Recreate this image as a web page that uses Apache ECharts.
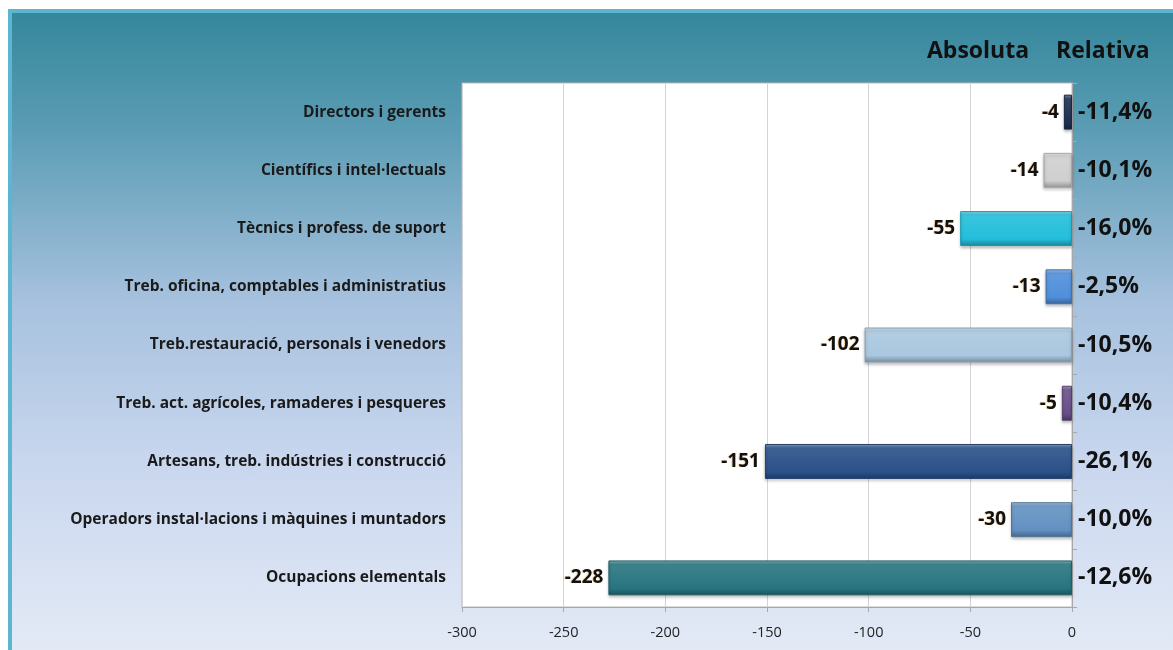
<!DOCTYPE html>
<html>
<head>
<meta charset="utf-8">
<script src="https://cdn.jsdelivr.net/npm/echarts@6/dist/echarts.min.js"></script>
<style>
  html, body { margin: 0; padding: 0; background: #fff; }
  #frame {
    position: absolute; left: 8px; top: 9px; width: 1161px; height: 637px;
    border-left: 4px solid #5db6d1; border-top: 4px solid #5db6d1;
    background: linear-gradient(to bottom, #35879b 0%, #5a9cb4 18%, #a6c1de 45%, #c8d6ee 70%, #e3eaf6 100%);
  }
  #chart { position: absolute; left: 0; top: 0; width: 1173px; height: 650px; }
</style>
</head>
<body>
<div id="frame"></div>
<div id="chart"></div>
<script>
// ocupacions (de dalt a baix)
const categories = [
  'Directors i gerents',
  'Científics i intel·lectuals',
  'Tècnics i profess. de suport',
  'Treb. oficina, comptables i administratius',
  'Treb.restauració, personals i venedors',
  'Treb. act. agrícoles, ramaderes i pesqueres',
  'Artesans, treb. indústries i construcció',
  'Operadors instal·lacions i màquines i muntadors',
  'Ocupacions elementals'
]
// variació absoluta (milers)
const absoluta = [-4, -14, -55, -13, -102, -5, -151, -30, -228]
// variació relativa
const relativa = ['-11,4%', '-10,1%', '-16,0%', '-2,5%', '-10,5%', '-10,4%', '-26,1%', '-10,0%', '-12,6%']
const barColors = ['#1f3152', '#cfcfcf', '#23bedb', '#4f8fda', '#a9c7df', '#684f88', '#2a5189', '#6291c1', '#277580']
const xTicks = [-300, -250, -200, -150, -100, -50, 0]

const shade = (hex, f) => {
  const n = parseInt(hex.slice(1), 16)
  let r = n >> 16, g = (n >> 8) & 255, b = n & 255
  const m = (c) => Math.max(0, Math.min(255, Math.round(f > 0 ? c + (255 - c) * f : c * (1 + f))))
  return 'rgb(' + m(r) + ',' + m(g) + ',' + m(b) + ')'
}

const chart = echarts.init(document.getElementById('chart'))
const font = '"Open Sans", "Noto Sans", sans-serif'

chart.setOption({
  backgroundColor: 'transparent',
  animation: false,
  grid: {
    left: 462, right: 101, top: 83, bottom: 43,
    show: true, backgroundColor: '#ffffff', borderColor: '#b9b9b9', borderWidth: 1
  },
  graphic: [
    { type: 'text', left: 927, top: 40, style: { text: 'Absoluta', font: 'bold 23px ' + font, fill: '#111' } },
    { type: 'text', left: 1056, top: 40, style: { text: 'Relativa', font: 'bold 23px ' + font, fill: '#111' } }
  ],
  xAxis: {
    type: 'value', min: -300, max: 0, interval: 50,
    axisLine: { show: true, lineStyle: { color: '#a8a8a8' } },
    axisTick: { show: true, length: 5, lineStyle: { color: '#a8a8a8' } },
    axisLabel: { color: '#222', fontSize: 14.5, fontFamily: font, margin: 18,
      formatter: (v) => xTicks.includes(v) ? String(v) : '' },
    splitLine: { show: true, lineStyle: { color: '#d4d4d4' } }
  },
  yAxis: [
    {
      type: 'category', inverse: true, position: 'left', data: categories,
      axisLine: { show: true, lineStyle: { color: '#b9b9b9' } },
      axisTick: { show: false },
      axisLabel: { color: '#1a1a1a', fontSize: 15.5, fontWeight: 'bold', fontFamily: font, margin: 16 }
    },
    {
      type: 'category', inverse: true, position: 'right', data: relativa,
      axisLine: { show: true, lineStyle: { color: '#a8a8a8' } },
      axisTick: { show: true, length: 5, lineStyle: { color: '#a8a8a8' } },
      axisLabel: { color: '#111', fontSize: 23, fontWeight: 'bold', fontFamily: font, margin: 6 }
    }
  ],
  series: [{
    type: 'bar', yAxisIndex: 0, barWidth: '60%',
    data: absoluta.map((v, i) => ({
      value: v,
      itemStyle: {
        color: new echarts.graphic.LinearGradient(0, 0, 0, 1, [
          { offset: 0, color: shade(barColors[i], 0.45) },
          { offset: 0.12, color: shade(barColors[i], 0.1) },
          { offset: 0.8, color: barColors[i] },
          { offset: 1, color: shade(barColors[i], -0.3) }
        ]),
        borderColor: shade(barColors[i], -0.2), borderWidth: 1,
        shadowColor: 'rgba(0,0,0,0.25)', shadowBlur: 3, shadowOffsetY: 2
      }
    })),
    label: {
      show: true, position: 'left', distance: 5,
      color: '#111', fontSize: 19, fontWeight: 'bold', fontFamily: font,
      textShadowColor: 'rgba(230,150,40,0.5)', textShadowBlur: 1, textShadowOffsetX: -1
    }
  }]
})
</script>
</body>
</html>
